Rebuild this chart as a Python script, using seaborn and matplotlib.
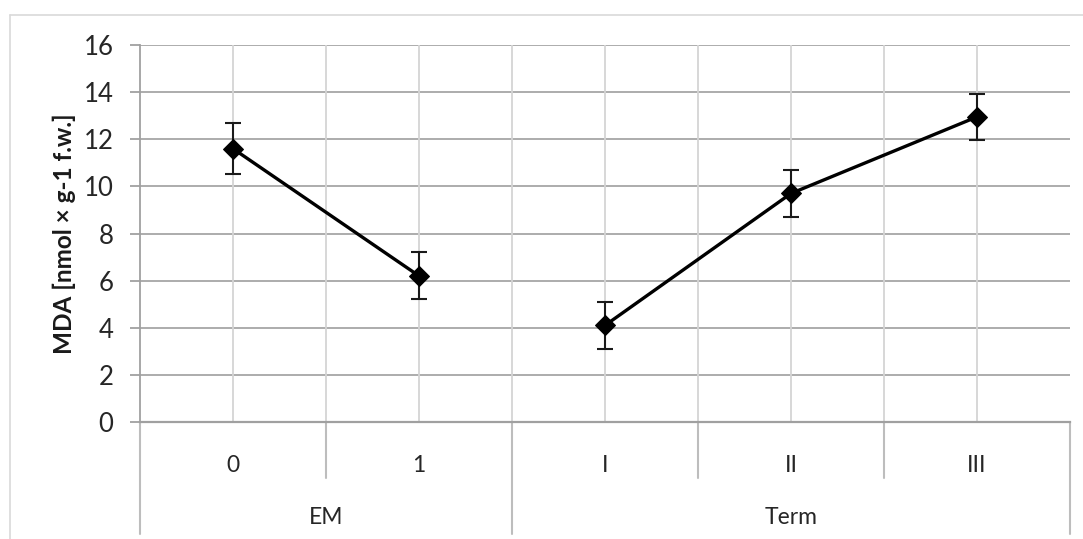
import numpy as np
import pandas as pd
import matplotlib
matplotlib.use("Agg")
import matplotlib.pyplot as plt
from matplotlib.lines import Line2D
import seaborn as sns

# MDA content per level of each factor
categories = ["0", "1", "I", "II", "III"]
groups = ["EM", "EM", "Term", "Term", "Term"]
mda_values = [11.6, 6.2, 4.1, 9.7, 12.95]
mda_errors = [1.07, 1.0, 1.0, 1.0, 0.98]
y_ticks = [0, 2, 4, 6, 8, 10, 12, 14, 16]
y_label = "MDA [nmol × g-1 f.w.]"

df = pd.DataFrame({
    "category": categories,
    "group": groups,
    "value": mda_values,
    "err": mda_errors,
})
df["pos"] = np.arange(len(df))

sns.set_theme(style="white")
plt.rcParams["font.family"] = ["Lato", "DejaVu Sans"]

fig = plt.figure(figsize=(10.83, 5.39), dpi=100)
ax = fig.add_axes([140 / 1083, 1 - 422 / 539, (1070 - 140) / 1083, (422 - 45) / 539])

grid_h = "#a6a6a6"
grid_v = "#d4d4d4"
text_c = "#262626"

ax.set_xlim(-0.5, len(categories) - 0.5)
ax.set_ylim(0, 16)

# gridlines: horizontal at ticks, vertical at centres and boundaries
for y in y_ticks:
    ax.axhline(y, color=grid_h, lw=1.3, zorder=0)
for x in np.arange(-0.5, len(categories), 0.5):
    if -0.5 < x < len(categories) - 0.5:
        ax.axvline(x, color=grid_v, lw=1.3, zorder=0)

# one line per factor, drawn with seaborn
sns.lineplot(data=df, x="pos", y="value", units="group", estimator=None,
             color="black", lw=2.4, marker="D", markersize=10,
             markeredgecolor="black", ax=ax, zorder=3, legend=False)
ax.errorbar(df["pos"], df["value"], yerr=df["err"], fmt="none",
            ecolor="#1a1a1a", elinewidth=1.5, capsize=6, capthick=1.5, zorder=2)

for s in ["top", "right"]:
    ax.spines[s].set_visible(False)
ax.spines["left"].set_color("#a0a0a0")
ax.spines["left"].set_linewidth(1.3)
ax.spines["bottom"].set_color("#a0a0a0")
ax.spines["bottom"].set_linewidth(1.6)

ax.set_yticks(y_ticks)
ax.set_yticklabels([str(v) for v in y_ticks], fontsize=18.5, color=text_c)
ax.tick_params(axis="y", which="major", left=True, length=7, width=1.3,
               color="#a0a0a0", pad=12)
ax.set_xticks([])
ax.set_xlabel("")
ax.set_ylabel(y_label, fontsize=17.5, fontweight="bold", color="#1a1a1a")
ax.yaxis.set_label_coords(-(140 - 76) / 930, 0.5)

# multi-level category axis below the plot
trans = ax.get_xaxis_transform()
h_ax = (422 - 45)
lvl1 = -56 / h_ax
lvl2 = -112 / h_ax
for x in np.arange(0.5, len(categories) - 0.5, 1.0):
    left_grp = groups[int(x - 0.5)]
    right_grp = groups[int(x + 0.5)]
    bottom = lvl2 if left_grp != right_grp else lvl1
    ax.add_line(Line2D([x, x], [0, bottom], transform=trans, color="#bdbdbd",
                       lw=1.5, clip_on=False))
for x in [-0.5, len(categories) - 0.5]:
    ax.add_line(Line2D([x, x], [0, lvl2], transform=trans, color="#bdbdbd",
                       lw=1.5, clip_on=False))

for p, c in zip(df["pos"], df["category"]):
    ax.text(p, -43 / h_ax, c, transform=trans, ha="center", va="center",
            fontsize=16.5, color=text_c)
for g in dict.fromkeys(groups):
    sub = df[df["group"] == g]
    ax.text(sub["pos"].mean(), -96 / h_ax, g, transform=trans, ha="center",
            va="center", fontsize=16.5, color=text_c)

# light chart frame
frame_c = "#d9d9d9"
fig.add_artist(Line2D([10 / 1083, 10 / 1083], [0, 1 - 15 / 539],
                      transform=fig.transFigure, color=frame_c, lw=1.2))
fig.add_artist(Line2D([10 / 1083, 1], [1 - 15 / 539, 1 - 15 / 539],
                      transform=fig.transFigure, color=frame_c, lw=1.2))

fig.savefig("out.png", dpi=100)
